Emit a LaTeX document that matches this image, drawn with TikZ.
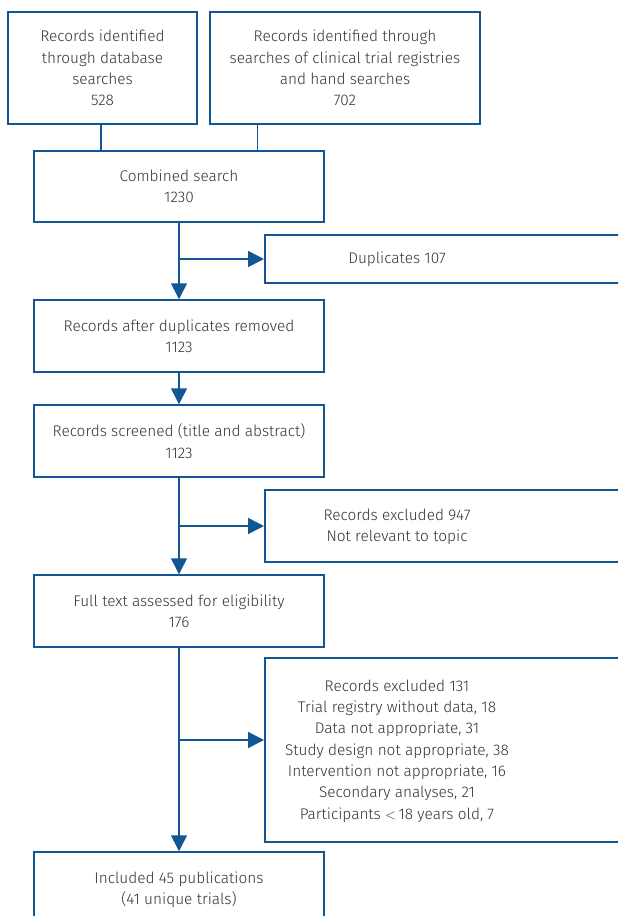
\documentclass[tikz,border=0pt]{standalone}
\usepackage{fontspec}
\setmainfont{Fira Sans Light}
\usetikzlibrary{arrows.meta,calc}
\definecolor{lineblue}{RGB}{18,86,148}
\definecolor{txtgray}{RGB}{50,50,50}
\begin{document}
\begin{tikzpicture}[x=1pt,y=-1pt,
  box/.style={draw=lineblue,line width=1.5pt,rectangle,inner sep=0pt,align=center,
    text=txtgray,font=\fontsize{15.4}{21.3}\selectfont},
  txt/.style={inner sep=0pt,align=center,text=txtgray,font=\fontsize{15.4}{21.3}\selectfont},
  link/.style={draw=lineblue,line width=1.5pt},
  arr/.style={link,-{Triangle[width=16pt,length=16pt]}}]
\useasboundingbox (0,0) rectangle (618,916);
\clip (0,0) rectangle (618,916);
\node[box,minimum width=189,minimum height=112] (A) at (102.5,68)
  {Records identified\\through database\\searches\\528};
\node[box,minimum width=270,minimum height=112] (B) at (345,68)
  {Records identified through\\searches of clinical trial registries\\and hand searches\\702};
\node[box,minimum width=290,minimum height=71] (comb) at (179,186.5)
  {Combined search\\1230};
\node[box,minimum width=400,minimum height=48,anchor=west] (dup) at (264,259) {};
\node[txt] (dupt) at (397,259) {Duplicates 107};
\node[box,minimum width=290,minimum height=72] (after) at (179,336)
  {Records after duplicates removed\\1123};
\node[box,minimum width=290,minimum height=72] (scr) at (179,441)
  {Records screened (title and abstract)\\1123};
\node[box,minimum width=400,minimum height=72,anchor=west] (ex1) at (264,526) {};
\node[txt] (ex1t) at (397,527) {Records excluded 947\\Not relevant to topic};
\node[box,minimum width=290,minimum height=72] (full) at (179,611)
  {Full text assessed for eligibility\\176};
\node[box,minimum width=400,minimum height=184,anchor=west] (ex2) at (264,750) {};
\node[txt] (ex2t) at (397,751) {Records excluded 131\\Trial registry without data, 18\\Data not appropriate, 31\\Study design not appropriate, 38\\Intervention not appropriate, 16\\Secondary analyses, 21\\Participants ${<}\,$18 years old, 7};
\node[box,minimum width=290,minimum height=76] (inc) at (179,890)
  {Included 45 publications\\(41 unique trials)};
\draw[link] ([xshift=-1.5pt]A.south) -- ([xshift=-1.5pt]A.south |- comb.north);
\draw[link] ([xshift=48pt]B.south west) -- ([xshift=48pt]B.south west |- comb.north);
\draw[arr] (comb.south) -- (after.north);
\draw[arr] (comb.south |- dup.west) -- (dup.west);
\draw[arr] (after.south) -- (scr.north);
\draw[arr] (scr.south) -- (full.north);
\draw[arr] (scr.south |- ex1.west) -- (ex1.west);
\draw[arr] (full.south) -- (inc.north);
\draw[arr] ([yshift=10pt]full.south |- ex2.west) -- ([yshift=10pt]ex2.west);
\end{tikzpicture}
\end{document}
